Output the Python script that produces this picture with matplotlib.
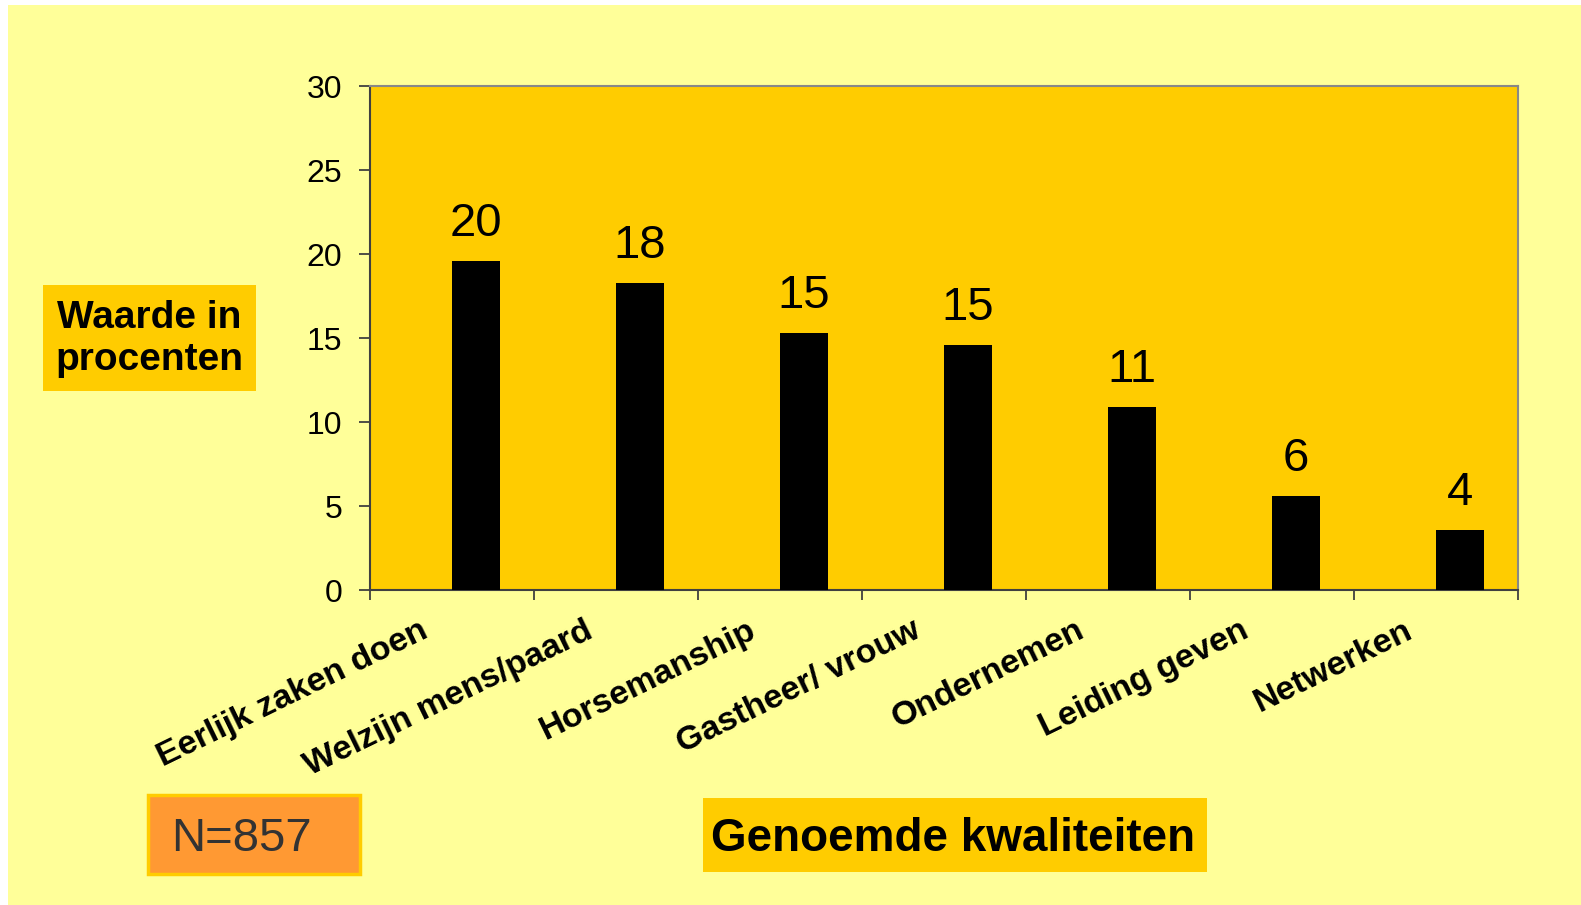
import matplotlib
matplotlib.use("Agg")
import matplotlib.pyplot as plt
from matplotlib.patches import Rectangle

categories = ["Eerlijk zaken doen", "Welzijn mens/paard", "Horsemanship",
              "Gastheer/ vrouw", "Ondernemen", "Leiding geven", "Netwerken"]
values = [19.6, 18.3, 15.3, 14.6, 10.9, 5.6, 3.6]
value_labels = ["20", "18", "15", "15", "11", "6", "4"]
y_ticks = [0, 5, 10, 15, 20, 25, 30]

W, H = 1581, 905
plt.rcParams['font.family'] = ['Liberation Sans', 'DejaVu Sans']
fig = plt.figure(figsize=(W / 100, H / 100), dpi=100, facecolor='white')

# light yellow slide background (white strip at top and left)
fig.patches.append(Rectangle((8 / W, 0), 1, (H - 5) / H, transform=fig.transFigure,
                             facecolor='#FFFF99', edgecolor='none', zorder=-5))

ax = fig.add_axes([370 / W, 1 - 590 / H, 1148 / W, 504 / H])
ax.set_zorder(2)
ax.set_facecolor('#FFCC00')
ax.set_xlim(0, 7)
ax.set_ylim(0, 30)

xs = [i + 0.5 for i in range(len(categories))]
ax.bar(xs, values, width=0.293, align='edge', color='black', zorder=3)

for x, v, lab in zip(xs, values, value_labels):
    ax.annotate(lab, xy=(x + 0.1465, v), xytext=(0, 18), textcoords='offset points',
                ha='center', va='baseline', fontsize=34, color='black')

for x, lab in zip(xs, categories):
    ax.annotate(lab, xy=(x, 0), xycoords=('data', 'axes fraction'),
                xytext=(-18.5, -28), textcoords='offset points',
                ha='right', va='center', rotation=26, rotation_mode='anchor',
                fontsize=24.5, fontweight='bold', color='black', annotation_clip=False)

ax.set_yticks(y_ticks)
ax.set_xticks(range(8))
ax.set_xticklabels([])
ax.tick_params(axis='y', direction='out', length=8, width=1.3, color='#404040',
               labelsize=23, pad=12)
ax.tick_params(axis='x', direction='out', length=7, width=1.3, color='#404040')
for s in ['left', 'bottom']:
    ax.spines[s].set_color('#404040')
    ax.spines[s].set_linewidth(1.5)
for s in ['top', 'right']:
    ax.spines[s].set_color('#888888')
    ax.spines[s].set_linewidth(1.5)

# "Waarde in procenten" box
fig.patches.append(Rectangle((43 / W, 1 - 391 / H), 213 / W, 106 / H, transform=fig.transFigure,
                             facecolor='#FFCC00', edgecolor='none', zorder=1))
fig.text(149.5 / W, 1 - 339 / H, "Waarde in\nprocenten", ha='center', va='center',
         fontsize=28, fontweight='bold', linespacing=1.22, zorder=2)

# N=857 box
fig.patches.append(Rectangle((148 / W, 1 - 874 / H), 212 / W, 79 / H, transform=fig.transFigure,
                             facecolor='#FF9933', edgecolor='#FFCC00', linewidth=2.5, zorder=1))
fig.text(171 / W, 1 - 839 / H, "N=857", ha='left', va='center', fontsize=34,
         color='#333333', zorder=2)

# "Genoemde kwaliteiten" box
fig.patches.append(Rectangle((703 / W, 1 - 872 / H), 504 / W, 74 / H, transform=fig.transFigure,
                             facecolor='#FFCC00', edgecolor='none', zorder=1))
fig.text(953 / W, 1 - 839 / H, "Genoemde kwaliteiten", ha='center', va='center',
         fontsize=33, fontweight='bold', zorder=2)

fig.savefig("out.png", dpi=100, facecolor=fig.get_facecolor())
